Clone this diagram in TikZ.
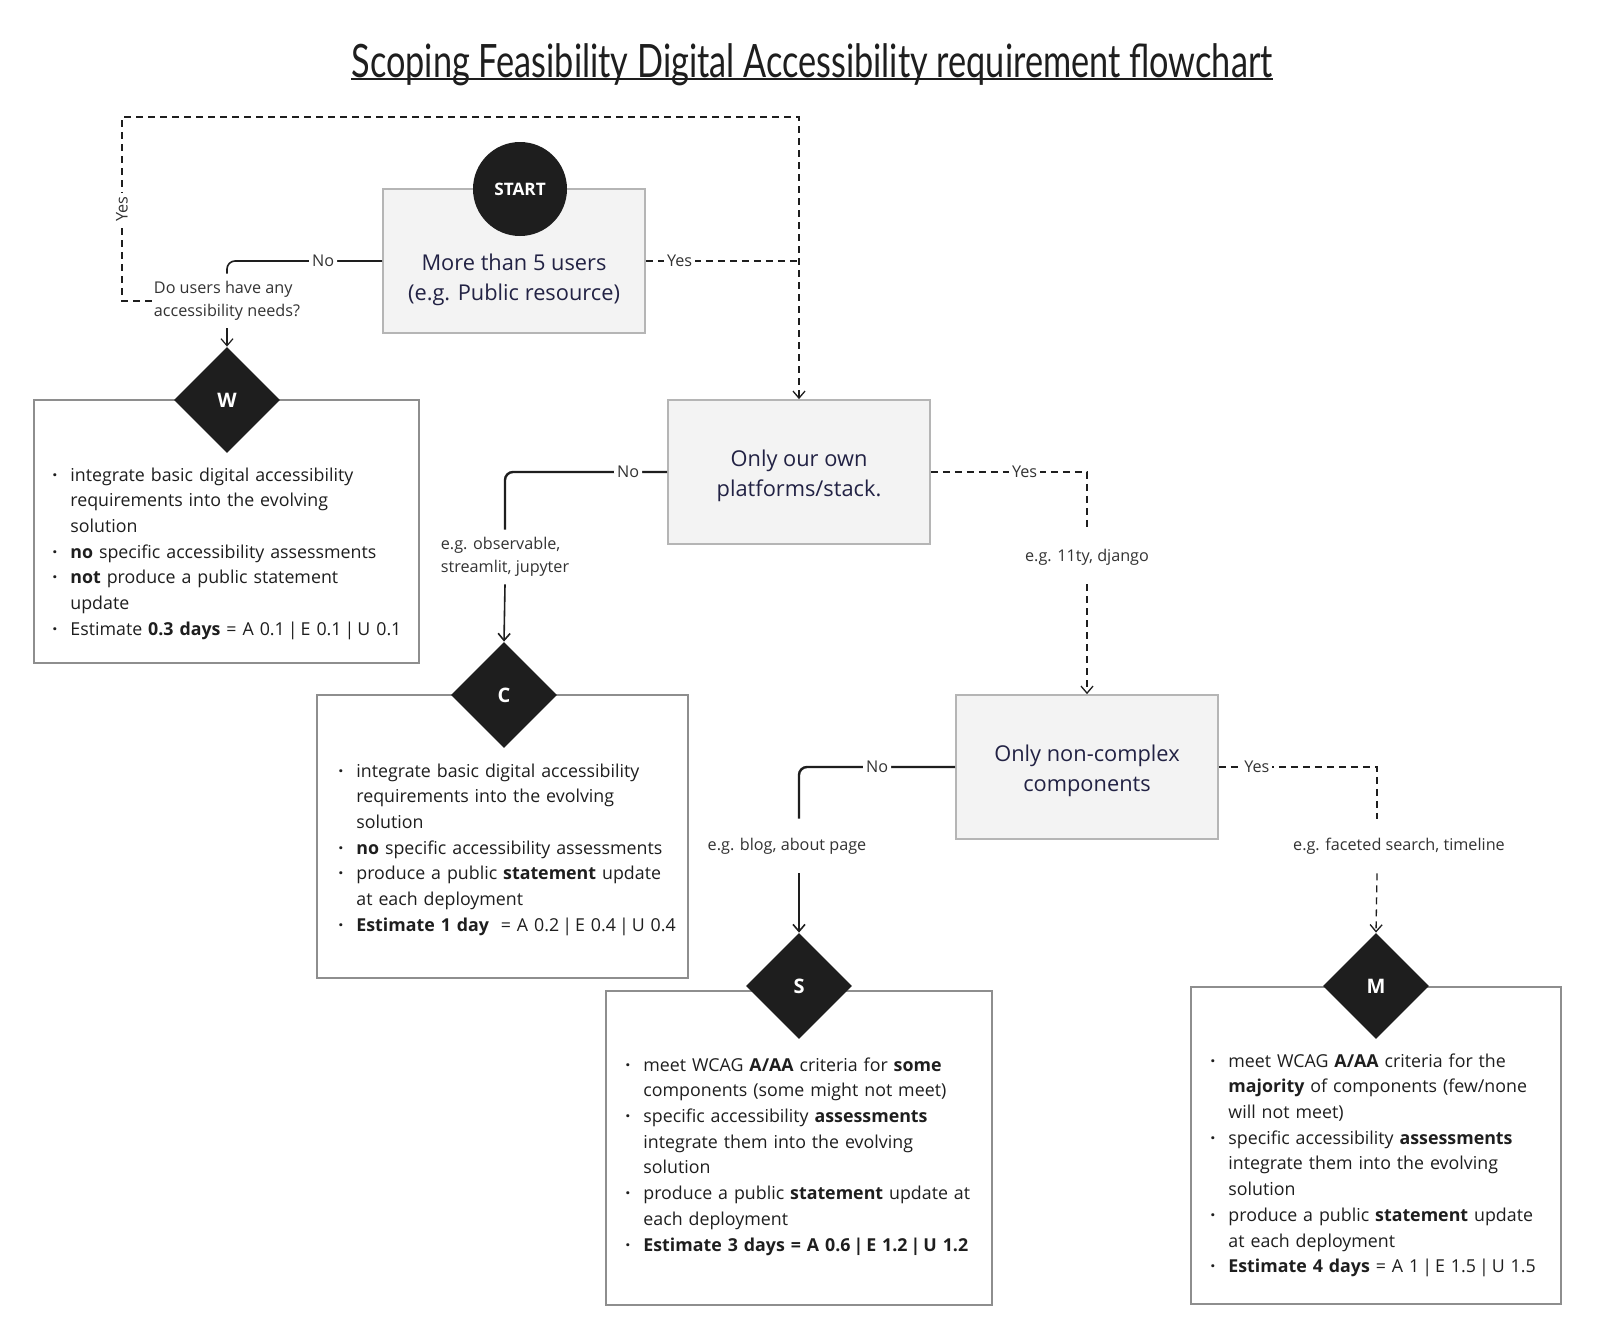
\documentclass[tikz,border=0pt]{standalone}
\usepackage{fontspec}
\setmainfont{Open Sans}
\newfontfamily\titlefont[FakeStretch=0.745]{Lato}
\usepackage{tikz}
\usetikzlibrary{arrows.meta,shapes.geometric}

\definecolor{qfill}{HTML}{F3F3F3}
\definecolor{qdraw}{HTML}{B5B5B5}
\definecolor{ldraw}{HTML}{8E8E8E}
\definecolor{navy}{HTML}{222244}
\definecolor{ink}{HTML}{1E1E1E}
\definecolor{mid}{HTML}{333333}

\newcommand{\blt}{\par\hangindent=9pt\hangafter=1\noindent\strut\makebox[9pt][l]{\textbf{·}}}
\newcommand{\sep}{\hspace{1.5pt}|\hspace{1.5pt}}

\tikzset{
    qbox/.style={rectangle, draw=qdraw, line width=0.9pt, fill=qfill, minimum width=131pt, minimum height=72pt, inner sep=0pt},
    qtext/.style={align=center, text=navy, font=\fontsize{10.9}{15.3}\selectfont},
    startc/.style={circle, fill=ink, text=white, minimum size=47pt, inner sep=0pt, font=\bfseries\fontsize{8.6}{9}\selectfont},
    dia/.style={diamond, aspect=1, fill=ink, text=white, minimum width=53pt, minimum height=53pt, inner sep=0pt, font=\bfseries\fontsize{10}{10}\selectfont},
    lbox/.style={rectangle, draw=ldraw, line width=0.9pt, fill=white, inner sep=0pt},
    lst/.style={anchor=north west, text width=185pt, align=left, inner sep=0pt, text=ink, font=\fontsize{8.9}{12.85}\selectfont},
    lbl/.style={fill=white, inner sep=1.5pt, text=mid, font=\fontsize{8.1}{10}\selectfont},
    eg/.style={align=left, text=mid, minimum height=27pt, inner sep=1pt, font=\fontsize{8.1}{11.25}\selectfont},
    tip/.style={-{Straight Barb[length=3.5pt,width=6pt]}},
    nopath/.style={draw=ink, line width=1.2pt, rounded corners=4pt},
    yespath/.style={draw=ink, line width=0.65pt, dash pattern=on 3.5pt off 2.5pt},
    arr/.style={draw=ink, line width=0.8pt, tip},
}

\begin{document}
\begin{tikzpicture}[x=0.5pt, y=-0.5pt]
    \useasboundingbox[fill=white] (0,0) rectangle (1600,1323);

    \node[anchor=base, inner sep=0pt, text=ink, font=\titlefont\fontsize{23}{28}\selectfont](TITLE) at (812,77) {Scoping Feasibility Digital Accessibility requirement flowchart\hspace{4pt}};
    \draw[ink, line width=1.3pt] ([yshift=-1pt]TITLE.base west) -- ([yshift=-1pt]TITLE.base east);

    \node[qbox](Q1) at (514,261) {};
    \node[qtext](Q1TXT) at (514,280) {More than 5 users\\(e.g. Public resource)};
    \node[startc](START) at (520,189) {START};

    \node[qbox](Q2) at (799,472) {};
    \node[qtext](Q2TXT) at (799,476) {Only our own\\platforms/stack.};
    \node[qbox](Q3) at (1087,767) {};
    \node[qtext](Q3TXT) at (1087,771) {Only non-complex\\components};

    \node[eg](NEEDS) at (227,301) {Do users have any\\accessibility needs?};
    \node[eg](OBS) at (505,557) {e.g. observable,\\streamlit, jupyter};
    \node[eg](DJANGO) at (1087,557) {e.g. 11ty, django};
    \node[eg](BLOG) at (787,846) {e.g. blog, about page};
    \node[eg](FACET) at (1399,846) {e.g. faceted search, timeline};

    \node[lbox, minimum width=192.5pt, minimum height=131.5pt](WBOX) at (226.5,531.5) {};
    \node[dia](W) at (227,400) {W};
    \node[lst](WTXT) at (52,455) {\blt integrate basic digital accessibility\newline requirements into the evolving\newline solution
        \blt \textbf{no} specific accessibility assessments
        \blt \textbf{not} produce a public statement\newline update
        \blt Estimate \textbf{0.3 days} = A 0.1\sep E 0.1\sep U 0.1};

    \node[lbox, minimum width=185.5pt, minimum height=141.5pt](CBOX) at (502.5,836.5) {};
    \node[dia](C) at (504,695) {C};
    \node[lst](CTXT) at (338,751) {\blt integrate basic digital accessibility\newline requirements into the evolving\newline solution
        \blt \textbf{no} specific accessibility assessments
        \blt produce a public \textbf{statement} update\newline at each deployment
        \blt \textbf{Estimate 1 day} \ = A 0.2\sep E 0.4\sep U 0.4};

    \node[lbox, minimum width=193pt, minimum height=157pt](SBOX) at (799,1148) {};
    \node[dia](S) at (799,986) {S};
    \node[lst](STXT) at (625,1045) {\blt meet WCAG \textbf{A/AA} criteria for \textbf{some}\newline components (some might not meet)
        \blt specific accessibility \textbf{assessments}\newline integrate them into the evolving\newline solution
        \blt produce a public \textbf{statement} update at\newline each deployment
        \blt \textbf{Estimate 3 days = A 0.6\sep E 1.2\sep U 1.2}};

    \node[lbox, minimum width=185pt, minimum height=158.5pt](MBOX) at (1376,1145.5) {};
    \node[dia](M) at (1376,986) {M};
    \node[lst](MTXT) at (1210,1041) {\blt meet WCAG \textbf{A/AA} criteria for the\newline \textbf{majority} of components (few/none\newline will not meet)
        \blt specific accessibility \textbf{assessments}\newline integrate them into the evolving\newline solution
        \blt produce a public \textbf{statement} update\newline at each deployment
        \blt \textbf{Estimate 4 days} = A 1\sep E 1.5\sep U 1.5};

    \coordinate (LOOPL) at (122,117);
    \coordinate (LOOPR) at (799,117);

    \draw[nopath, line width=0.8pt] (Q1.west) -| node[lbl, pos=0.19]{No} (NEEDS.north);
    \draw[arr, line width=0.6pt] (NEEDS.south) -- (W.north);
    \draw[yespath, tip] (NEEDS.west) -| node[lbl, rotate=90, pos=0.75]{Yes} (LOOPL) -- (LOOPR) -- (Q2.north);
    \draw[yespath] (Q1.east) -- node[lbl, pos=0.22]{Yes} (LOOPR |- Q1.east);

    \draw[nopath] (Q2.west) -| node[lbl, pos=0.12]{No} (OBS.north);
    \draw[arr] (OBS.south) -- (C.north);
    \draw[yespath] (Q2.east) -| node[lbl, pos=0.3]{Yes} (DJANGO.north);
    \draw[yespath, tip] (DJANGO.south) -- (Q3.north);

    \draw[nopath] (Q3.west) -| node[lbl, pos=0.25]{No} ([xshift=6pt]BLOG.north);
    \draw[arr] ([xshift=6pt]BLOG.south) -- (S.north);
    \draw[yespath] (Q3.east) -| node[lbl, pos=0.12]{Yes} ([xshift=-11pt]FACET.north);
    \draw[yespath, tip] ([xshift=-11pt]FACET.south) -- (M.north);
\end{tikzpicture}
\end{document}
